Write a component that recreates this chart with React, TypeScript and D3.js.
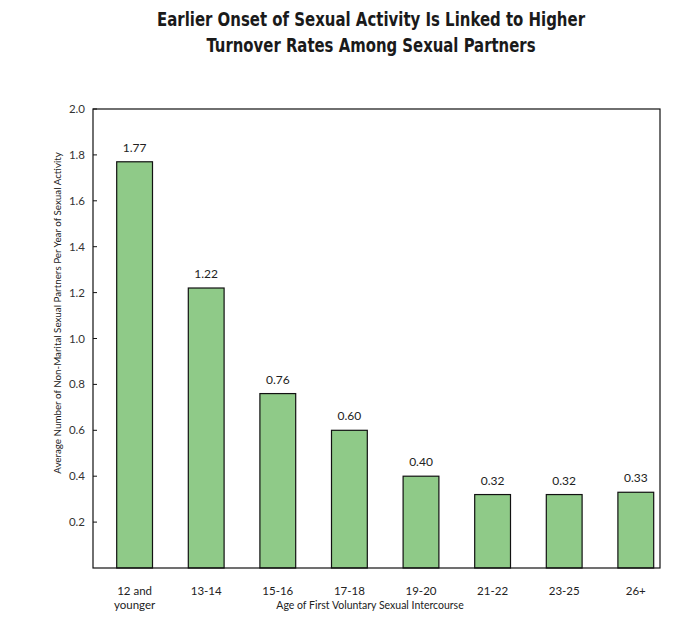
import React from "react";
import * as d3 from "d3";

const categories = ["12 and\nyounger", "13-14", "15-16", "17-18", "19-20", "21-22", "23-25", "26+"];
const values = [1.77, 1.22, 0.76, 0.6, 0.4, 0.32, 0.32, 0.33];
const valueLabels = ["1.77", "1.22", "0.76", "0.60", "0.40", "0.32", "0.32", "0.33"];
const yTicks = [0.2, 0.4, 0.6, 0.8, 1.0, 1.2, 1.4, 1.6, 1.8, 2.0];
const titleLines = ["Earlier Onset of Sexual Activity Is Linked to Higher", "Turnover Rates Among Sexual Partners"];
const yLabel = "Average Number of Non-Marital Sexual Partners Per Year of Sexual Activity";
const xLabel = "Age of First Voluntary Sexual Intercourse";

export default function App() {
  const W = 679, H = 634;
  const left = 93, right = 660, top = 109, bottom = 568;
  const y = d3.scaleLinear().domain([0, 2]).range([bottom, top]);
  const x = d3.scaleBand<string>().domain(categories).range([116.7, 653.7]).paddingInner(0.5).paddingOuter(0);
  const bodyFont = "'Lato', 'Open Sans', sans-serif";
  const titleFont = "'DejaVu Sans Condensed', 'Roboto', sans-serif";
  const titleWidths = [428, 329];
  return (
    <svg width={W} height={H} style={{ position: "absolute", left: 0, top: 0, background: "#fff" }}>
      <rect x={0} y={0} width={W} height={H} fill="#fff" />
      {titleLines.map((t, i) => (
        <text key={i} x={371} y={26 + i * 26} textAnchor="middle" fontFamily={titleFont} fontWeight="bold" fontSize={20}
          fill="#1a1a1a" textLength={titleWidths[i]} lengthAdjust="spacingAndGlyphs">
          {t}
        </text>
      ))}
      {categories.map((c, i) => (
        <g key={c}>
          <rect x={x(c)!} y={y(values[i])} width={x.bandwidth()} height={bottom - y(values[i])} fill="#8fca88" stroke="#111" strokeWidth={1.2} />
          <text x={x(c)! + x.bandwidth() / 2} y={y(values[i]) - 10} textAnchor="middle" fontFamily={bodyFont} fontSize={12} fill="#222">
            {valueLabels[i]}
          </text>
          {c.split("\n").map((line, j) => (
            <text key={j} x={x(c)! + x.bandwidth() / 2} y={595 + j * 14} textAnchor="middle" fontFamily={bodyFont} fontSize={11.5} fill="#222">
              {line}
            </text>
          ))}
        </g>
      ))}
      <rect x={left} y={top} width={right - left} height={bottom - top} fill="none" stroke="#111" strokeWidth={1.2} />
      {yTicks.map((t) => (
        <g key={t}>
          <line x1={left} x2={left + 4} y1={y(t)} y2={y(t)} stroke="#111" strokeWidth={1} />
          <text x={left - 8} y={y(t) + 4} textAnchor="end" fontFamily={bodyFont} fontSize={11.5} fill="#333">
            {d3.format(".1f")(t)}
          </text>
        </g>
      ))}
      <text transform={`translate(61, 313) rotate(-90)`} textAnchor="middle" fontFamily={bodyFont} fontSize={9.8} fill="#222">
        {yLabel}
      </text>
      <text x={370} y={609} textAnchor="middle" fontFamily={bodyFont} fontSize={10.5} fill="#222">
        {xLabel}
      </text>
    </svg>
  );
}
